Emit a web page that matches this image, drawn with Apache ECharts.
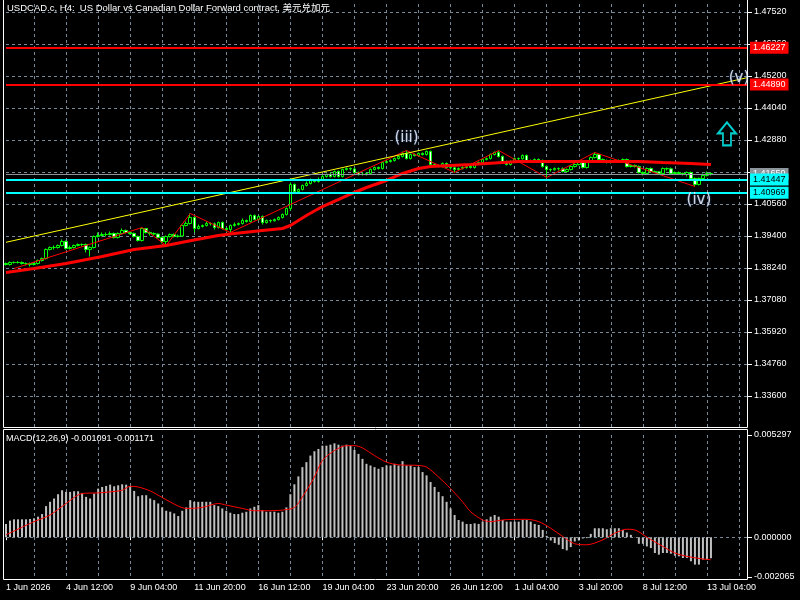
<!DOCTYPE html>
<html lang="en">
<head>
    <meta charset="UTF-8">
    <title>USDCAD.c H4</title>
    <script src="https://cdn.jsdelivr.net/npm/echarts@6.0.0/dist/echarts.min.js"></script>
    <style>
      html,body{margin:0;padding:0;background:#000;}
      #main{width:800px;height:600px;}
    </style>
</head>
<body>
<div id="main"></div>
<script>
// 数据 (H4 bars)
var barCount = 186; // incl. empty space right of the last bar
var firstOpen = 1.38403;
var closes = [
 1.38367,1.38439,1.38439,1.38439,1.38403,1.38403,1.38367,1.38403,1.38512,1.38584,
 1.38911,1.38983,1.38983,1.39056,1.39201,1.38947,1.38983,1.39056,1.39092,1.39092,
 1.38911,1.38983,1.39382,1.39418,1.39454,1.39454,1.39491,1.39346,1.39491,1.39599,
 1.39527,1.39491,1.39382,1.39237,1.39672,1.39527,1.39491,1.39470,1.39346,1.39201,
 1.39382,1.39454,1.39382,1.39400,1.39781,1.39853,1.40071,1.39672,1.39744,1.39781,
 1.39853,1.39840,1.39708,1.39889,1.39672,1.39636,1.39781,1.39817,1.39853,1.39962,
 1.39926,1.40143,1.39998,1.40107,1.39889,1.39962,1.39950,1.39998,1.40071,1.40179,
 1.40397,1.41267,1.41013,1.41086,1.41231,1.41303,1.41412,1.41376,1.41448,1.41557,
 1.41629,1.41557,1.41738,1.41557,1.41811,1.41847,1.41830,1.41702,1.41629,1.41640,
 1.41666,1.41811,1.41883,1.41847,1.42064,1.42101,1.42137,1.42209,1.42282,1.42391,
 1.42209,1.42354,1.42318,1.42391,1.42354,1.42463,1.41992,1.41956,1.41919,1.42028,
 1.41883,1.41870,1.41811,1.41847,1.41883,1.41919,1.41883,1.42028,1.42064,1.42173,
 1.42209,1.42354,1.42427,1.42282,1.42101,1.41992,1.42101,1.42209,1.42200,1.42318,
 1.42137,1.42125,1.42173,1.42137,1.41919,1.41811,1.41800,1.41847,1.41835,1.41738,
 1.41811,1.41919,1.41992,1.42064,1.41883,1.42101,1.42246,1.42354,1.42173,1.42137,
 1.42064,1.42137,1.42125,1.42137,1.42173,1.41919,1.41956,1.41919,1.41702,1.41666,
 1.41847,1.41738,1.41725,1.41666,1.41847,1.41835,1.41666,1.41702,1.41666,1.41629,
 1.41702,1.41484,1.41267,1.41484,1.41593,1.41666,1.41650];
var highs = [
 1.38440,1.38476,1.38476,1.38490,1.38476,1.38440,1.38440,1.38440,1.38548,1.38620,
 1.38947,1.39020,1.39056,1.39092,1.39273,1.39237,1.39056,1.39092,1.39128,1.39128,
 1.39128,1.39020,1.39418,1.39527,1.39527,1.39527,1.39563,1.39527,1.39527,1.39672,
 1.39636,1.39563,1.39527,1.39418,1.39708,1.39690,1.39563,1.39527,1.39491,1.39382,
 1.39418,1.39491,1.39491,1.39454,1.39817,1.39926,1.40216,1.40107,1.39817,1.39817,
 1.39926,1.39889,1.39889,1.39926,1.39926,1.39708,1.39817,1.39889,1.39889,1.40034,
 1.39998,1.40179,1.40179,1.40143,1.40143,1.39998,1.39998,1.40034,1.40107,1.40216,
 1.40433,1.41339,1.41303,1.41122,1.41267,1.41376,1.41484,1.41448,1.41520,1.41629,
 1.41666,1.41702,1.41774,1.41774,1.41847,1.41883,1.41883,1.41883,1.41738,1.41702,
 1.41702,1.41847,1.41919,1.41919,1.42101,1.42137,1.42173,1.42246,1.42318,1.42463,
 1.42500,1.42391,1.42391,1.42427,1.42427,1.42500,1.42500,1.42028,1.41992,1.42064,
 1.42064,1.41919,1.41919,1.41883,1.41919,1.41956,1.41956,1.42064,1.42101,1.42209,
 1.42246,1.42391,1.42463,1.42500,1.42318,1.42137,1.42137,1.42246,1.42246,1.42354,
 1.42354,1.42173,1.42209,1.42209,1.42173,1.41956,1.41847,1.41883,1.41883,1.41883,
 1.41847,1.41956,1.42028,1.42101,1.42101,1.42137,1.42282,1.42427,1.42391,1.42209,
 1.42173,1.42173,1.42173,1.42173,1.42209,1.42209,1.41992,1.41992,1.41956,1.41738,
 1.41883,1.41883,1.41774,1.41738,1.41883,1.41883,1.41883,1.41738,1.41738,1.41702,
 1.41738,1.41738,1.41520,1.41520,1.41666,1.41738,1.41702];
var lows = [
 1.38330,1.38330,1.38403,1.38403,1.38367,1.38330,1.38294,1.38330,1.38367,1.38476,
 1.38548,1.38875,1.38911,1.38947,1.39020,1.38911,1.38911,1.38947,1.39020,1.39020,
 1.38802,1.38657,1.38947,1.39346,1.39382,1.39382,1.39418,1.39310,1.39310,1.39454,
 1.39491,1.39454,1.39346,1.39201,1.39201,1.39491,1.39418,1.39418,1.39310,1.39128,
 1.39056,1.39346,1.39346,1.39346,1.39382,1.39744,1.39817,1.39527,1.39636,1.39708,
 1.39744,1.39781,1.39636,1.39672,1.39636,1.39563,1.39527,1.39744,1.39781,1.39817,
 1.39889,1.39889,1.39962,1.39962,1.39817,1.39853,1.39889,1.39926,1.39962,1.40034,
 1.40143,1.40325,1.40977,1.40977,1.41050,1.41195,1.41267,1.41339,1.41339,1.41412,
 1.41520,1.41520,1.41520,1.41520,1.41520,1.41774,1.41774,1.41666,1.41593,1.41593,
 1.41593,1.41629,1.41774,1.41811,1.41811,1.42028,1.42064,1.42101,1.42173,1.42246,
 1.42173,1.42173,1.42282,1.42282,1.42318,1.42318,1.41883,1.41919,1.41883,1.41883,
 1.41847,1.41811,1.41702,1.41774,1.41811,1.41847,1.41847,1.41847,1.41992,1.42028,
 1.42137,1.42173,1.42318,1.42246,1.42064,1.41956,1.41956,1.42064,1.42137,1.42173,
 1.42101,1.42064,1.42101,1.42101,1.41883,1.41521,1.41738,1.41774,1.41774,1.41702,
 1.41702,1.41774,1.41883,1.41956,1.41847,1.41847,1.42064,1.42209,1.42137,1.42101,
 1.42028,1.42028,1.42064,1.42101,1.42101,1.41883,1.41883,1.41883,1.41666,1.41593,
 1.41629,1.41702,1.41702,1.41629,1.41629,1.41774,1.41629,1.41629,1.41629,1.41593,
 1.41557,1.41448,1.41194,1.41231,1.41448,1.41557,1.41593];

// thick red average, sampled
var maIdx = [0,7,15,24,32,40,45,53,57,64,69,71,75,79,87,90,95,99,103,106,116,128,158,164,171,176];
var maVal = [1.38077,1.38222,1.38403,1.38657,1.38911,1.39056,1.39201,1.39418,1.39491,1.39599,1.39672,1.39781,1.40143,1.40469,1.40977,1.41158,1.41412,1.41666,1.41847,1.41919,1.41992,1.42101,1.42101,1.42064,1.42028,1.41992];
// zigzag
var zzIdx = [2,34,40,46,56,100,112,123,135,147,172];
var zzVal = [1.38222,1.39708,1.39056,1.40216,1.39527,1.42500,1.41702,1.42500,1.41521,1.42427,1.41194];
// trend line (yellow)
var trendIdx = [0,185];
var trendVal = [1.39172,1.45138];
// horizontal levels
var redLevels = [1.46227,1.44890];
var cyanLevels = [1.41447,1.40969];
var bidPrice = 1.41650;
// wave marks
var waveText = ['(iii)','(iv)','(v)'];
var waveIdx = [100,173,183];
var waveVal = [1.42952,1.40705,1.45128];
var arrowIdx = 180;
var arrowVal = 1.43100;

// MACD histogram
var macd = [
 0.000685,0.000857,0.000925,0.000925,0.000925,0.000925,0.000942,0.000976,0.001062,0.001199,
 0.001610,0.001833,0.002004,0.002227,0.002432,0.002347,0.002347,0.002381,0.002381,0.002295,
 0.002090,0.002004,0.002261,0.002518,0.002604,0.002655,0.002724,0.002638,0.002689,0.002741,
 0.002724,0.002655,0.002398,0.002124,0.002176,0.002176,0.002004,0.001919,0.001747,0.001542,
 0.001370,0.001319,0.001233,0.001096,0.001370,0.001542,0.001919,0.001833,0.001833,0.001833,
 0.001833,0.001833,0.001662,0.001610,0.001490,0.001370,0.001268,0.001199,0.001199,0.001268,
 0.001319,0.001490,0.001576,0.001662,0.001405,0.001319,0.001319,0.001319,0.001268,0.001319,
 0.001542,0.002227,0.002741,0.003152,0.003632,0.003889,0.004231,0.004454,0.004574,0.004745,
 0.004745,0.004796,0.004865,0.004796,0.004745,0.004796,0.004745,0.004522,0.004317,0.004060,
 0.003803,0.003717,0.003632,0.003546,0.003632,0.003717,0.003717,0.003803,0.003717,0.003940,
 0.003717,0.003717,0.003632,0.003632,0.003375,0.003203,0.002861,0.002604,0.002347,0.002124,
 0.001833,0.001490,0.001148,0.000891,0.000805,0.000685,0.000685,0.000719,0.000685,0.000805,
 0.000925,0.001062,0.001148,0.001062,0.000891,0.000805,0.000805,0.000805,0.000805,0.000891,
 0.000891,0.000805,0.000685,0.000634,0.000377,0.000069,-0.000171,-0.000308,-0.000394,-0.000617,
 -0.000685,-0.000514,-0.000223,-0.000171,-0.000069,-0.000051,0.000171,0.000463,0.000463,0.000463,
 0.000411,0.000463,0.000463,0.000463,0.000377,0.000240,0.000120,0.000010,-0.000343,-0.000343,
 -0.000480,-0.000565,-0.000822,-0.000908,-0.000822,-0.000822,-0.000857,-0.000959,-0.000994,-0.001079,
 -0.001079,-0.001250,-0.001422,-0.001422,-0.001165,-0.001165,-0.001091];
// signal line, sampled
var sigIdx = [0,7,11,15,19,23,26,29,31,33,36,39,43,45,49,53,55,59,62,65,69,72,74,77,79,82,85,87,89,92,95,98,103,105,108,111,114,116,119,121,124,127,130,133,136,139,142,145,149,152,155,157,160,164,167,170,174,176];
var sigVal = [0.000120,0.000805,0.001148,0.001747,0.002261,0.002295,0.002347,0.002432,0.002638,0.002604,0.002398,0.002056,0.001610,0.001490,0.001542,0.001747,0.001662,0.001490,0.001370,0.001370,0.001405,0.001542,0.002090,0.003118,0.003974,0.004488,0.004745,0.004745,0.004625,0.004231,0.003889,0.003752,0.003717,0.003632,0.003118,0.002518,0.001833,0.001319,0.000891,0.000805,0.000891,0.000925,0.000925,0.000805,0.000463,0.000034,-0.000343,-0.000394,-0.000137,0.000206,0.000411,0.000377,0.000000,-0.000480,-0.000822,-0.000994,-0.001131,-0.001171];
var macdTicks = [-0.002065,0,0.005297];

// 时间轴标签
var tickIdx = [0,15,31,47,63,79,95,111,127,143,159,175];
var tickText = ['1 Jun 2026','4 Jun 12:00','9 Jun 04:00','11 Jun 20:00','16 Jun 12:00','19 Jun 04:00',
  '23 Jun 20:00','26 Jun 12:00','1 Jul 04:00','3 Jul 20:00','8 Jul 12:00','13 Jul 04:00'];

var FONT = '"Liberation Sans", Arial, sans-serif';
var GRIDC = '#778899';

var cats = [];
for (var i = 0; i < barCount; i++) cats.push(String(i));

var candles = [];
for (var i = 0; i < closes.length; i++) {
  var o = i === 0 ? firstOpen : closes[i-1];
  candles.push([o, closes[i], lows[i], highs[i]]);
}
function pairs(a, b){ return a.map(function(v, k){ return [v, b[k]]; }); }

function levelLine(v, color, width, textColor){
  return { yAxis: v, lineStyle: {color: color, width: width, type: 'solid'},
    label: {backgroundColor: color, color: textColor} };
}

var myChart = echarts.init(document.getElementById('main'));
var option = {
  backgroundColor: '#000',
  animation: false,
  grid: [
    {left: 6, right: 53, top: 4, height: 424},
    {left: 6, right: 53, top: 435, height: 142}
  ],
  xAxis: [
    {type: 'category', gridIndex: 0, data: cats, boundaryGap: false,
     axisLine: {show: false}, axisTick: {show: false}, axisLabel: {show: false},
     splitLine: {show: true, interval: function(i){ return i % 8 === 7; },
       lineStyle: {color: GRIDC, type: [3,3], width: 1}}},
    {type: 'category', gridIndex: 1, data: cats, boundaryGap: false,
     axisLine: {show: false},
     axisTick: {show: true, length: 3, interval: function(i){ return tickIdx.indexOf(i) >= 0; },
       lineStyle: {color: '#fff'}},
     axisLabel: {show: true, interval: function(i){ return tickIdx.indexOf(i) >= 0; },
       formatter: function(v, i){ return tickText[tickIdx.indexOf(i)]; },
       color: '#fff', fontSize: 9, fontFamily: FONT, align: 'left', margin: 6},
     splitLine: {show: true, interval: function(i){ return i % 8 === 7; },
       lineStyle: {color: GRIDC, type: [3,3], width: 1}}}
  ],
  yAxis: [
    {type: 'value', gridIndex: 0, position: 'right', min: 1.3244, max: 1.4781, interval: 0.0116,
     axisLine: {show: false},
     axisTick: {show: true, length: 5, lineStyle: {color: '#fff'}},
     axisLabel: {color: '#fff', fontSize: 9, fontFamily: FONT, margin: 7,
       showMinLabel: false, showMaxLabel: false,
       formatter: function(v){ return v.toFixed(5); }},
     splitLine: {show: true, showMinLine: false, showMaxLine: false,
       lineStyle: {color: GRIDC, type: [3,3], width: 1}}},
    {type: 'value', gridIndex: 1, position: 'right', min: macdTicks[0], max: macdTicks[2],
     axisLine: {show: false},
     axisTick: {show: true, length: 5, customValues: macdTicks, lineStyle: {color: '#fff'}},
     axisLabel: {color: '#fff', fontSize: 9, fontFamily: FONT, margin: 7, customValues: macdTicks,
       formatter: function(v){ return v.toFixed(6); }},
     splitLine: {show: false}}
  ],
  graphic: [
    {type: 'polyline', silent: true, z: 10,
     shape: {points: [[3.5,0],[3.5,427.5],[747.5,427.5],[747.5,0]]},
     style: {stroke: '#fff', fill: null, lineWidth: 1}},
    {type: 'rect', silent: true, z: 10,
     shape: {x: 3.5, y: 429.5, width: 744, height: 150},
     style: {stroke: '#fff', fill: null, lineWidth: 1}},
    {type: 'text', left: 7, top: 4, z: 10,
     style: {text: 'USDCAD.c, H4:  US Dollar vs Canadian Dollar Forward contract, 美元兑加元',
       fill: '#fff', font: '9.5px "Liberation Sans", "Noto Sans CJK SC", sans-serif'}},
    {type: 'text', left: 6, top: 434, z: 10,
     style: {text: 'MACD(12,26,9) -0.001091 -0.001171', fill: '#fff', font: '9px ' + FONT}}
  ],
  series: [
    {name: 'price', type: 'candlestick', xAxisIndex: 0, yAxisIndex: 0, data: candles,
     barWidth: 3, z: 2,
     itemStyle: {color: '#000', color0: '#fff', borderColor: '#00ff00', borderColor0: '#00ff00', borderWidth: 1}},
    {name: 'ma', type: 'line', xAxisIndex: 0, yAxisIndex: 0, data: pairs(maIdx, maVal),
     symbol: 'none', z: 3, lineStyle: {color: '#ff0000', width: 3}},
    {name: 'zigzag', type: 'line', xAxisIndex: 0, yAxisIndex: 0, data: pairs(zzIdx, zzVal),
     symbol: 'none', z: 3, lineStyle: {color: '#ff0000', width: 1}},
    {name: 'trend', type: 'line', xAxisIndex: 0, yAxisIndex: 0, data: pairs(trendIdx, trendVal),
     symbol: 'none', z: 4, lineStyle: {color: '#ffff00', width: 1},
     markLine: {silent: true, symbol: ['none','none'], animation: false, precision: 5,
       label: {show: true, position: 'end', distance: 3, fontSize: 9, fontFamily: FONT,
         padding: [2,3,1,3], formatter: function(p){ return Number(p.value).toFixed(5); }},
       data: [
         levelLine(bidPrice, '#8c949c', 1, '#fff'),
         levelLine(redLevels[0], '#ff0000', 2, '#fff'),
         levelLine(redLevels[1], '#ff0000', 2, '#fff'),
         levelLine(cyanLevels[0], '#00ffff', 2, '#000'),
         levelLine(cyanLevels[1], '#00ffff', 2, '#000')
       ]}},
    {name: 'waves', type: 'scatter', xAxisIndex: 0, yAxisIndex: 0, z: 6,
     data: waveIdx.map(function(v, k){ return {value: [v, waveVal[k]], name: waveText[k]}; }),
     symbolSize: 0,
     label: {show: true, position: 'inside', formatter: '{b}', color: '#fff', fontSize: 15,
       fontFamily: '"DejaVu Sans", sans-serif', textShadowColor: '#4070d0', textShadowBlur: 2}},
    {name: 'arrow', type: 'scatter', xAxisIndex: 0, yAxisIndex: 0, z: 6,
     data: [[arrowIdx, arrowVal]],
     symbol: 'path://M9,0 L18,11 L13,11 L13,23 L5,23 L5,11 L0,11 Z', symbolSize: [18,23],
     itemStyle: {color: 'rgba(0,0,0,0)', borderColor: '#00ffff', borderWidth: 2}},
    {name: 'MACD', type: 'bar', xAxisIndex: 1, yAxisIndex: 1, data: macd, barWidth: 2,
     itemStyle: {color: '#c0c0c0'},
     markLine: {silent: true, symbol: ['none','none'], label: {show: false},
       lineStyle: {color: GRIDC, type: [3,3], width: 1},
       data: [{yAxis: 0}]}},
    {name: 'signal', type: 'line', xAxisIndex: 1, yAxisIndex: 1, data: pairs(sigIdx, sigVal),
     symbol: 'none', smooth: 0.3, z: 3, lineStyle: {color: '#ff0000', width: 1}}
  ]
};
myChart.setOption(option);
</script>
</body>
</html>
